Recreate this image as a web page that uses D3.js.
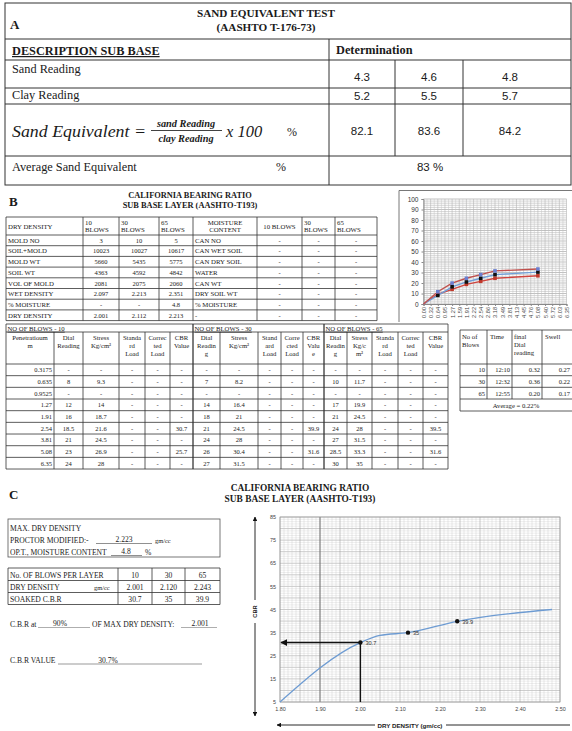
<!DOCTYPE html>
<html>
<head>
<meta charset="utf-8">
<script src="https://cdn.jsdelivr.net/npm/d3@7"></script>
<style>
  html, body { margin: 0; padding: 0; background: #fff; }
  svg { display: block; }
</style>
</head>
<body>
<svg id="page" width="572" height="731"></svg>
<script>
// ---------- Section A: sand equivalent ----------
const sandReading = [4.3, 4.6, 4.8];
const clayReading = [5.2, 5.5, 5.7];
const sandEquivalent = [82.1, 83.6, 84.2];
const averageSandEquivalent = 83;

// ---------- Section B: CBR laboratory sheet ----------
const densityRowLabels = ["MOLD NO", "SOIL+MOLD", "MOLD WT", " SOIL WT", "VOL OF MOLD", "WET DENSITY", "% MOISTURE", "DRY DENSITY"];
const density10 = ["3", "10023", "5660", "4363", "2081", "2.097", "-", "2.001"];
const density30 = ["10", "10027", "5435", "4592", "2075", "2.213", "-", "2.112"];
const density65 = ["5", "10617", "5775", "4842", "2060", "2.351", "4.8", "2.213"];
const moistureRowLabels = ["CAN NO", "CAN WET SOIL", "CAN DRY SOIL", "WATER", "CAN WT", "DRY SOIL WT", "% MOISTURE", "-"];
const moisture10 = ["-", "-", "-", "-", "-", "-", "-", "-"];
const moisture30 = ["-", "-", "-", "-", "-", "-", "-", "-"];
const moisture65 = ["-", "-", "-", "-", "-", "-", "-", "-"];

const penetration = ["0.3175", "0.635", "0.9525", "1.27", "1.91", "2.54", "3.81", "5.08", "6.35"];
const dial10 = [null, 8, null, 12, 16, 18.5, 21, 23, 24];
const stress10 = [null, 9.3, null, 14, 18.7, 21.6, 24.5, 26.9, 28];
const cbr10 = [null, null, null, null, null, 30.7, null, 25.7, null];
const dial30 = [null, 7, null, 14, 18, 21, 24, 26, 27];
const stress30 = [null, 8.2, null, 16.4, 21, 24.5, 28, 30.4, 31.5];
const cbr30 = [null, null, null, null, null, 39.9, null, 31.6, null];
const dial65 = [null, 10, null, 17, 21, 24, 27, 28.5, 30];
const stress65 = [null, 11.7, null, 19.9, 24.5, 28, 31.5, 33.3, 35];
const cbr65 = [null, null, null, null, null, 39.5, null, 31.6, null];

const swellBlows = ["10", "30", "65"];
const swellTime = ["12:10", "12:32", "12:55"];
const swellDial = ["0.32", "0.36", "0.20"];
const swellValue = ["0.27", "0.22", "0.17"];
const swellAverage = "0.22%";

// load-penetration chart (category axis, gaps where no reading)
const penCategories = ["0.00", "0.32", "0.64", "0.95", "1.27", "1.59", "1.91", "2.22", "2.54", "2.86", "3.18",
  "3.49", "3.81", "4.13", "4.45", "4.76", "5.08", "5.40", "5.72", "6.03", "6.35"];
const curve65 = [0, null, 11.7, null, 19.9, null, 24.5, null, 28, null, 31.5, null, null, null, null, null, 33.3, null, null, null, null];
const curve30 = [0, null, 8.2, null, 16.4, null, 21, null, 24.5, null, 28, null, null, null, null, null, 30.4, null, null, null, null];
const curve10 = [0, null, 9.3, null, 14, null, 18.7, null, 21.6, null, 24.5, null, null, null, null, null, 26.9, null, null, null, null];
const stressTicks = [0, 10, 20, 30, 40, 50, 60, 70, 80, 90, 100];

// ---------- Section C: CBR vs dry density ----------
const maxDryDensity = "2.223";
const optMoisture = "4.8";
const blowsPerLayer = ["10", "30", "65"];
const dryDensity = [2.001, 2.120, 2.243];
const soakedCBR = [30.7, 35, 39.9];
const cbrAtPercent = "90%";
const densityAt90 = 2.001;
const cbrValue = 30.7;
const curveDensity = [1.80, 2.001, 2.05, 2.12, 2.243, 2.48];
const curveCBR = [5, 30.7, 33.8, 35, 39.9, 45];
const cbrTicks = [5, 15, 25, 35, 45, 55, 65, 75, 85];
const densityTicks = [1.8, 1.9, 2.0, 2.1, 2.2, 2.3, 2.4, 2.5];

// ---------- drawing helpers ----------
const SERIF = '"Liberation Serif", "Times New Roman", serif';
const SANS = '"Liberation Sans", Arial, sans-serif';
const svg = d3.select("#page");
svg.append("rect").attr("width", 572).attr("height", 731).attr("fill", "#fff");

function hl(g, x1, x2, y, w = 0.8, c = "#333") {
  g.append("line").attr("x1", x1).attr("x2", x2).attr("y1", y).attr("y2", y)
    .attr("stroke", c).attr("stroke-width", w);
}
function vl(g, x, y1, y2, w = 0.8, c = "#333") {
  g.append("line").attr("x1", x).attr("x2", x).attr("y1", y1).attr("y2", y2)
    .attr("stroke", c).attr("stroke-width", w);
}
function txt(g, x, y, s, o = {}) {
  const t = g.append("text").attr("x", x).attr("y", y).text(s)
    .attr("font-family", o.ff || SERIF).attr("font-size", o.fs || 7)
    .attr("text-anchor", o.anchor || "start").attr("fill", o.fill || "#1a1a1a");
  if (o.fw) t.attr("font-weight", o.fw);
  if (o.fst) t.attr("font-style", o.fst);
  if (o.deco) t.attr("text-decoration", o.deco);
  if (o.len) t.attr("textLength", o.len).attr("lengthAdjust", "spacingAndGlyphs");
  return t;
}
function lines(g, x, yFirst, arr, lh, o = {}) {
  arr.forEach((s, i) => txt(g, x, yFirst + i * lh, s, o));
}
function grid(g, cols, rows, w = 0.8, c = "#333") {
  cols.forEach(x => vl(g, x, rows[0], rows[rows.length - 1], w, c));
  rows.forEach(y => hl(g, cols[0], cols[cols.length - 1], y, w, c));
}
const fmt = v => (v === null || v === undefined) ? "-" : String(v);
const mid = (a, b) => (a + b) / 2;

// ================= SECTION A =================
const A = svg.append("g");
A.append("rect").attr("x", 5).attr("y", 3).attr("width", 566).attr("height", 182)
  .attr("fill", "none").attr("stroke", "#333").attr("stroke-width", 1);
const aRows = [39, 60, 88, 104, 156];
aRows.forEach(y => hl(A, 5, 571, y, 1));
vl(A, 329, 39, 185, 1);
const aCols = [329, 395, 463, 557];
vl(A, aCols[1], 60, 156, 1);
vl(A, aCols[2], 60, 156, 1);
const aCenter = i => (aCols[i] + aCols[i + 1]) / 2;

txt(A, 266, 17, "SAND EQUIVALENT TEST", { fs: 11.2, fw: "bold", anchor: "middle" });
txt(A, 266, 31, "(AASHTO T-176-73)", { fs: 11.2, fw: "bold", anchor: "middle" });
txt(A, 10, 29, "A", { fs: 13, fw: "bold" });
txt(A, 12, 55, "DESCRIPTION SUB BASE", { fs: 12.3, fw: "bold", deco: "underline" });
txt(A, 336, 54, "Determination", { fs: 12.3, fw: "bold" });

txt(A, 12, 73, "Sand Reading", { fs: 12.3 });
sandReading.forEach((v, i) => txt(A, aCenter(i), 81, v.toFixed(1), { fs: 11.5, ff: SANS, anchor: "middle" }));
txt(A, 12, 99, "Clay Reading", { fs: 12.3 });
clayReading.forEach((v, i) => txt(A, aCenter(i), 100, v.toFixed(1), { fs: 11.5, ff: SANS, anchor: "middle" }));

// formula
txt(A, 12, 137, "Sand Equivalent =", { fs: 16.5, fst: "italic", len: 134 });
txt(A, 186, 127, "sand Reading", { fs: 10.3, fst: "italic", fw: "bold", anchor: "middle" });
hl(A, 151, 222, 130.5, 0.8, "#111");
txt(A, 186, 142, "clay Reading", { fs: 10.3, fst: "italic", fw: "bold", anchor: "middle" });
txt(A, 226, 137, "x 100", { fs: 16.5, fst: "italic" });
txt(A, 287, 136, "%", { fs: 12 });
sandEquivalent.forEach((v, i) => txt(A, aCenter(i), 135, v.toFixed(1), { fs: 11.5, ff: SANS, anchor: "middle" }));

txt(A, 12, 171, "Average Sand Equivalent", { fs: 12.3 });
txt(A, 276, 171, "%", { fs: 12 });
txt(A, 430, 171, averageSandEquivalent + " %", { fs: 11.5, ff: SANS, anchor: "middle" });

// ================= SECTION B =================
const B = svg.append("g");
txt(B, 9, 206, "B", { fs: 13, fw: "bold" });
txt(B, 190, 198, "CALIFORNIA BEARING RATIO", { fs: 8.4, fw: "bold", anchor: "middle" });
txt(B, 190, 207.5, "SUB BASE LAYER (AASHTO-T193)", { fs: 8.4, fw: "bold", anchor: "middle" });

// density / moisture table
const tCols = [6, 83, 119, 159, 193, 257, 302, 335, 377];
const tRows = [217, 235, 245.7, 256.4, 267.1, 277.8, 288.5, 299.2, 309.9, 320.6];
grid(B, tCols, tRows, 0.8);
const TF = 6.8;
txt(B, 8, 229, "DRY DENSITY", { fs: TF });
lines(B, 85, 224.5, ["10", "BLOWS"], 7.8, { fs: TF });
lines(B, 121, 224.5, ["30", "BLOWS"], 7.8, { fs: TF });
lines(B, 161, 224.5, ["65", "BLOWS"], 7.8, { fs: TF });
lines(B, 225, 224.5, ["MOISTURE", "CONTENT"], 7.8, { fs: TF, anchor: "middle" });
txt(B, 279.5, 228.5, "10 BLOWS", { fs: TF, anchor: "middle" });
lines(B, 304, 224.5, ["30", "BLOWS"], 7.8, { fs: TF });
lines(B, 337, 224.5, ["65", "BLOWS"], 7.8, { fs: TF });
densityRowLabels.forEach((lab, r) => {
  const y = mid(tRows[r + 1], tRows[r + 2]) + 2.4;
  txt(B, 8, y, lab, { fs: TF });
  [density10, density30, density65].forEach((arr, c) =>
    txt(B, mid(tCols[c + 1], tCols[c + 2]), y, arr[r], { fs: 6.5, anchor: "middle" }));
  txt(B, 195, y, moistureRowLabels[r], { fs: TF });
  [moisture10, moisture30, moisture65].forEach((arr, c) =>
    txt(B, mid(tCols[c + 5], tCols[c + 6]), y, arr[r], { fs: 6.5, anchor: "middle" }));
});

// penetration tables
const pTop = 324, pHead = 332, pData = 364, pRowH = 11.67;
const pRows = [pTop, pHead, pData].concat(penetration.map((d, i) => pData + (i + 1) * pRowH));
const edges10 = [6, 54, 83, 119, 145, 170, 193];
const edges30 = [193, 220, 258, 281, 303, 324];
const edges65 = [324, 347, 372, 398, 423, 448];
const pBottom = pRows[pRows.length - 1];
const PF = 6.7;

function penTable(edges, title, headers, dial, stress, cbr) {
  const g = B.append("g");
  pRows.forEach(y => hl(g, edges[0], edges[edges.length - 1], y, 0.8));
  vl(g, edges[0], pTop, pBottom, 0.8);
  vl(g, edges[edges.length - 1], pTop, pBottom, 0.8);
  edges.slice(1, -1).forEach(x => vl(g, x, pHead, pBottom, 0.8));
  txt(g, edges[0] + 1.5, pTop + 6.8, title, { fs: PF, deco: "underline" });
  headers.forEach((h, i) => {
    lines(g, mid(edges[i], edges[i + 1]), pHead + 7.8, h, 8.3, { fs: PF, anchor: "middle" });
  });
  const off = edges.length - 1 - 5; // 1 when a penetration column is present
  penetration.forEach((p, r) => {
    const y = mid(pRows[r + 2], pRows[r + 3]) + 2.4;
    if (off === 1) txt(g, edges[1] - 2, y, p, { fs: 6.5, anchor: "end" });
    const cells = [fmt(dial[r]), fmt(stress[r]), "-", "-", fmt(cbr[r])];
    cells.forEach((s, c) => txt(g, mid(edges[c + off], edges[c + off + 1]), y, s, { fs: 6.5, anchor: "middle" }));
  });
}
penTable(edges10, "NO OF BLOWS - 10",
  [["Penetratioum", "m"], ["Dial", "Reading"], ["Stress", "Kg/cm\u00b2"], ["Standa", "rd", "Load"], ["Correc", "ted", "Load"], ["CBR", "Value"]],
  dial10, stress10, cbr10);
penTable(edges30, "NO OF BLOWS - 30",
  [["Dial", "Readin", "g"], ["Stress", "Kg/cm\u00b2"], ["Stand", "ard", "Load"], ["Corre", "cted", "Load"], ["CBR", "Valu", "e"]],
  dial30, stress30, cbr30);
penTable(edges65, "NO OF BLOWS - 65",
  [["Dial", "Readin", "g"], ["Stress", "Kg/c", "m\u00b2"], ["Standa", "rd", "Load"], ["Correc", "ted", "Load"], ["CBR", "Value"]],
  dial65, stress65, cbr65);

// swell table
const sCols = [460, 487, 512, 542, 572];
const sRows = [330, 364, 375.7, 387.3, 399, 411];
sRows.forEach(y => hl(B, 460, 572, y, 0.8));
vl(B, 460, 330, 411, 0.8);
sCols.slice(1, -1).forEach(x => vl(B, x, 330, 399, 0.8));
lines(B, 462, 339, ["No of", "Blows"], 7.8, { fs: PF });
txt(B, 490, 339, "Time", { fs: PF });
lines(B, 514, 339, ["final", "Dial", "reading"], 7.8, { fs: PF });
txt(B, 545, 339, "Swell", { fs: PF });
swellBlows.forEach((b, r) => {
  const y = mid(sRows[r + 1], sRows[r + 2]) + 2.4;
  txt(B, sCols[1] - 2, y, b, { fs: 6.5, anchor: "end" });
  txt(B, sCols[2] - 2, y, swellTime[r], { fs: 6.5, anchor: "end" });
  txt(B, sCols[3] - 2, y, swellDial[r], { fs: 6.5, anchor: "end" });
  txt(B, sCols[4] - 2, y, swellValue[r], { fs: 6.5, anchor: "end" });
});
txt(B, 516, 407.5, "Average  = " + swellAverage, { fs: PF, anchor: "middle" });

// ---------- load-penetration chart ----------
const SC = svg.append("g");
hl(SC, 399, 572, 190.5, 0.8, "#555");
vl(SC, 399, 190.5, 322, 0.8, "#555");
const xCat = d3.scalePoint().domain(penCategories).range([423.5, 566.5]);
const yStress = d3.scaleLinear().domain([0, 100]).range([304, 199]);
const step = xCat.step();
const gridG = SC.append("g");
d3.range(0, 101, 2).forEach(v => hl(gridG, 423.5, 566.5, yStress(v), 0.6, v % 10 === 0 ? "#999" : "#bababa"));
penCategories.forEach((c, i) => {
  vl(gridG, xCat(c), yStress(100), yStress(0), 0.6, "#b3b3b3");
  if (i < penCategories.length - 1) vl(gridG, xCat(c) + step / 2, yStress(100), yStress(0), 0.5, "#c4c4c4");
});
const yAx = SC.append("g").attr("transform", "translate(423.5,0)")
  .call(d3.axisLeft(yStress).tickValues(stressTicks).tickSize(2).tickFormat(d3.format("d")));
yAx.select(".domain").attr("stroke", "#888");
yAx.selectAll("line").attr("stroke", "#888");
yAx.selectAll("text").attr("font-family", SANS).attr("font-size", 6.5).attr("fill", "#333");
const xAx = SC.append("g").attr("transform", `translate(0,${yStress(0)})`)
  .call(d3.axisBottom(xCat).tickSize(2));
xAx.select(".domain").attr("stroke", "#888");
xAx.selectAll("line").attr("stroke", "#888");
xAx.selectAll(".tick text").attr("font-family", SANS).attr("font-size", 5.6).attr("fill", "#444")
  .attr("x", -3).attr("y", 0).attr("dy", "0.35em")
  .attr("transform", "rotate(-90)").attr("text-anchor", "end");

const chartSeries = [
  { values: curve10, line: "#d0443e", marker: "#c0392b" },
  { values: curve30, line: "#6f9fd8", marker: "#111" },
  { values: curve65, line: "#c0504d", marker: "#6b7fd0" }
];
const penLine = d3.line().x(d => xCat(d.c)).y(d => yStress(d.v));
chartSeries.forEach(s => {
  const pts = s.values.map((v, i) => ({ c: penCategories[i], v })).filter(d => d.v !== null);
  SC.append("path").attr("d", penLine(pts)).attr("fill", "none")
    .attr("stroke", s.line).attr("stroke-width", 1.4);
  SC.selectAll(null).data(pts.slice(1)).enter().append("rect")
    .attr("x", d => xCat(d.c) - 1.8).attr("y", d => yStress(d.v) - 1.8)
    .attr("width", 3.6).attr("height", 3.6).attr("fill", s.marker);
});

// ================= SECTION C =================
const C = svg.append("g");
txt(C, 9, 499, "C", { fs: 13, fw: "bold" });
txt(C, 300, 491, "CALIFORNIA BEARING RATIO", { fs: 9.4, fw: "bold", anchor: "middle" });
txt(C, 300, 501.5, "SUB BASE LAYER (AASHTO-T193)", { fs: 9.4, fw: "bold", anchor: "middle" });

const CF = 7.6;
C.append("rect").attr("x", 8).attr("y", 519).attr("width", 212).attr("height", 38)
  .attr("fill", "none").attr("stroke", "#555").attr("stroke-width", 0.8);
txt(C, 10, 530.5, "MAX. DRY DENSITY", { fs: CF });
txt(C, 10, 542.5, "PROCTOR MODIFIED:-", { fs: CF });
hl(C, 96, 152, 543.5, 0.6, "#444");
txt(C, 124, 542, maxDryDensity, { fs: CF, anchor: "middle" });
txt(C, 155, 542.5, "gm/cc", { fs: 6.4 });
txt(C, 10, 554.5, "OP.T., MOISTURE CONTENT", { fs: CF });
hl(C, 111, 142, 555.5, 0.6, "#444");
txt(C, 126, 554, optMoisture, { fs: CF, anchor: "middle" });
txt(C, 145, 554.5, "%", { fs: CF });

const cCols = [8, 118, 152, 185, 220];
const cRows = [568, 580.5, 592.5, 604.5];
grid(C, cCols, cRows, 0.8, "#333");
txt(C, 10, 577.5, "No. OF BLOWS PER LAYER", { fs: CF });
txt(C, 10, 589.5, "DRY DENSITY", { fs: CF });
txt(C, 94, 589.5, "gm/cc", { fs: 6.4 });
txt(C, 10, 601.5, "SOAKED C.B.R", { fs: CF });
blowsPerLayer.forEach((b, i) => {
  const x = mid(cCols[i + 1], cCols[i + 2]);
  txt(C, x, 577.5, b, { fs: CF, anchor: "middle" });
  txt(C, x, 589.5, dryDensity[i].toFixed(3), { fs: CF, anchor: "middle" });
  txt(C, x, 601.5, String(soakedCBR[i]), { fs: CF, anchor: "middle" });
});

txt(C, 10, 626.5, "C.B.R at", { fs: CF });
hl(C, 38, 90, 627.5, 0.6, "#777");
txt(C, 60, 626, cbrAtPercent, { fs: CF, anchor: "middle" });
txt(C, 92, 626.5, "OF MAX DRY DENSITY:", { fs: CF });
hl(C, 181, 217, 627.5, 0.6, "#777");
txt(C, 200, 626, densityAt90.toFixed(3), { fs: CF, anchor: "middle" });

txt(C, 10, 663, "C.B.R VALUE", { fs: CF });
hl(C, 58, 202, 664, 0.6, "#555");
txt(C, 108, 662.5, cbrValue + "%", { fs: CF, anchor: "middle" });

// ---------- CBR vs dry density chart ----------
const CC = svg.append("g");
const xD = d3.scaleLinear().domain([1.8, 2.5]).range([280, 560]);
const yC = d3.scaleLinear().domain([5, 85]).range([702, 517]);
const cg = CC.append("g");
d3.range(5, 86, 1).forEach(v => hl(cg, 280, 560, yC(v), v % 5 === 0 ? 0.55 : 0.35, v % 5 === 0 ? "#a0a0a0" : "#cdcdcd"));
d3.range(0, 71, 1).forEach(k => {
  const v = 1.8 + k * 0.01;
  vl(cg, xD(v), 517, 702, k % 5 === 0 ? 0.55 : 0.4, k % 5 === 0 ? "#a0a0a0" : "#c8c8c8");
});
vl(cg, xD(1.9), 517, 702, 0.8, "#666");
CC.append("rect").attr("x", 280).attr("y", 517).attr("width", 280).attr("height", 185)
  .attr("fill", "none").attr("stroke", "#999").attr("stroke-width", 0.7);

const cyAx = CC.append("g").attr("transform", "translate(280,0)")
  .call(d3.axisLeft(yC).tickValues(cbrTicks).tickSize(0).tickPadding(4).tickFormat(d3.format("d")));
cyAx.select(".domain").remove();
cyAx.selectAll("text").attr("font-family", SANS).attr("font-size", 5.4).attr("fill", "#444");
const cxAx = CC.append("g").attr("transform", "translate(0,702)")
  .call(d3.axisBottom(xD).tickValues(densityTicks).tickSize(0).tickPadding(5).tickFormat(d3.format(".2f")));
cxAx.select(".domain").remove();
cxAx.selectAll("text").attr("font-family", SANS).attr("font-size", 5.4).attr("fill", "#444");

const defs = svg.append("defs");
defs.append("marker").attr("id", "arrow").attr("viewBox", "0 0 10 10").attr("refX", 9).attr("refY", 5)
  .attr("markerWidth", 5).attr("markerHeight", 5).attr("orient", "auto-start-reverse")
  .append("path").attr("d", "M0,0 L10,5 L0,10 z").attr("fill", "#111");

// fitted curve
const curvePts = curveDensity.map((d, i) => [d, curveCBR[i]]);
CC.append("path").attr("d", d3.line().x(d => xD(d[0])).y(d => yC(d[1])).curve(d3.curveMonotoneX)(curvePts))
  .attr("fill", "none").attr("stroke", "#6d9bd2").attr("stroke-width", 1.3);

// construction lines at 90% of max dry density
CC.append("line").attr("x1", xD(densityAt90)).attr("y1", yC(cbrValue)).attr("x2", xD(1.8) + 1).attr("y2", yC(cbrValue))
  .attr("stroke", "#111").attr("stroke-width", 1.4).attr("marker-end", "url(#arrow)");
CC.append("line").attr("x1", xD(densityAt90)).attr("y1", yC(cbrValue)).attr("x2", xD(densityAt90)).attr("y2", yC(5))
  .attr("stroke", "#111").attr("stroke-width", 1.4);

// measured points
dryDensity.forEach((d, i) => {
  CC.append("circle").attr("cx", xD(d)).attr("cy", yC(soakedCBR[i])).attr("r", 2.2).attr("fill", "#111");
  txt(CC, xD(d) + 5, yC(soakedCBR[i]) + 2.5, String(soakedCBR[i]), { ff: SANS, fs: 5.6, fill: "#333" });
});

// axis arrows with titles
CC.append("line").attr("x1", 255).attr("y1", 600).attr("x2", 255).attr("y2", 517)
  .attr("stroke", "#111").attr("stroke-width", 0.9).attr("marker-end", "url(#arrow)");
CC.append("line").attr("x1", 255).attr("y1", 623).attr("x2", 255).attr("y2", 716)
  .attr("stroke", "#111").attr("stroke-width", 0.9).attr("marker-end", "url(#arrow)");
txt(CC, 0, 0, "CBR", { ff: SANS, fs: 5.8, fw: "bold", anchor: "middle" })
  .attr("transform", "translate(257,611.5) rotate(-90)");
CC.append("line").attr("x1", 375).attr("y1", 725).attr("x2", 277).attr("y2", 725)
  .attr("stroke", "#111").attr("stroke-width", 0.9).attr("marker-end", "url(#arrow)");
hl(CC, 446, 570, 725, 0.9, "#111");
txt(CC, 410, 727.5, "DRY DENSITY (gm/cc)", { ff: SANS, fs: 6.2, fw: "bold", anchor: "middle" });
</script>
</body>
</html>
